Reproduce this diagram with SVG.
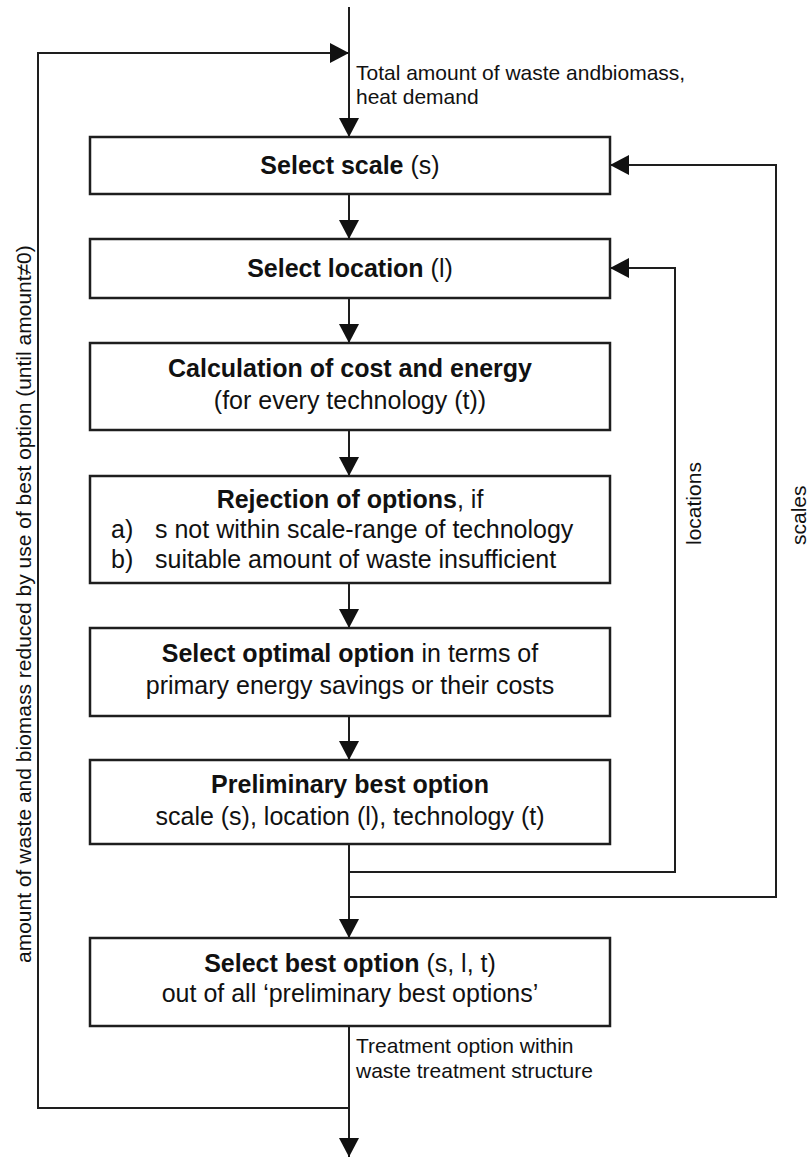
<svg xmlns="http://www.w3.org/2000/svg" width="808" height="1157" viewBox="0 0 808 1157">
<style>
.box{fill:#fff;stroke:#1e1e1e;stroke-width:2.5}
.ln{fill:none;stroke:#1e1e1e;stroke-width:2}
.t{font-family:"Liberation Sans",Arial,sans-serif;font-size:25px;fill:#111}
.c{text-anchor:middle}
.b{font-weight:bold}
.lb{font-family:"Liberation Sans",Arial,sans-serif;font-size:21px;fill:#111}
</style>
<defs>
<marker id="ah" viewBox="0 0 19 20" refX="19" refY="10" markerWidth="19" markerHeight="20" markerUnits="userSpaceOnUse" orient="auto">
<path d="M0,0 L19,10 L0,20 z" fill="#111"/>
</marker>
</defs>
<g id="connectors">
<path class="ln" d="M349,7 V137" marker-end="url(#ah)"/>
<path class="ln" d="M349,1108 H38 V53 H349" marker-end="url(#ah)"/>
<path class="ln" d="M349,194 V239" marker-end="url(#ah)"/>
<path class="ln" d="M349,298 V343" marker-end="url(#ah)"/>
<path class="ln" d="M349,430 V476" marker-end="url(#ah)"/>
<path class="ln" d="M349,583 V628" marker-end="url(#ah)"/>
<path class="ln" d="M349,716 V760" marker-end="url(#ah)"/>
<path class="ln" d="M349,844 V938" marker-end="url(#ah)"/>
<path class="ln" d="M349,872 H675 V268 H610" marker-end="url(#ah)"/>
<path class="ln" d="M349,897 H776 V165 H610" marker-end="url(#ah)"/>
<path class="ln" d="M349,1026 V1157" marker-end="url(#ah)"/>
<text class="lb" x="356" y="80">Total amount of waste andbiomass,</text>
<text class="lb" x="356" y="104">heat demand</text>
<text class="lb" x="356" y="1053">Treatment option within</text>
<text class="lb" x="356" y="1078">waste treatment structure</text>
<text class="lb" transform="translate(31,963) rotate(-90)">amount of waste and biomass reduced by use of best option (until amount≠0)</text>
<text class="lb" transform="translate(701,545) rotate(-90)">locations</text>
<text class="lb" transform="translate(806,545) rotate(-90)">scales</text>
</g>
<g id="n1">
<rect class="box" x="90" y="137" width="520" height="57"/>
<text class="t c" x="350" y="174"><tspan class="b">Select scale</tspan> (s)</text>
</g>
<g id="n2">
<rect class="box" x="90" y="239" width="520" height="59"/>
<text class="t c" x="350" y="277"><tspan class="b">Select location</tspan> (l)</text>
</g>
<g id="n3">
<rect class="box" x="90" y="343" width="520" height="87"/>
<text class="t c b" x="350" y="377">Calculation of cost and energy</text>
<text class="t c" x="350" y="409">(for every technology (t))</text>
</g>
<g id="n4">
<rect class="box" x="90" y="476" width="520" height="107"/>
<text class="t c" x="350" y="508"><tspan class="b">Rejection of options</tspan>, if</text>
<text class="t" x="111" y="538">a)</text>
<text class="t" x="155" y="538">s not within scale-range of technology</text>
<text class="t" x="111" y="568">b)</text>
<text class="t" x="155" y="568">suitable amount of waste insufficient</text>
</g>
<g id="n5">
<rect class="box" x="90" y="628" width="520" height="88"/>
<text class="t c" x="350" y="662"><tspan class="b">Select optimal option</tspan> in terms of</text>
<text class="t c" x="350" y="694">primary energy savings or their costs</text>
</g>
<g id="n6">
<rect class="box" x="90" y="760" width="520" height="84"/>
<text class="t c b" x="350" y="793">Preliminary best option</text>
<text class="t c" x="350" y="825">scale (s), location (l), technology (t)</text>
</g>
<g id="n7">
<rect class="box" x="90" y="938" width="520" height="88"/>
<text class="t c" x="350" y="972"><tspan class="b">Select best option</tspan> (s, l, t)</text>
<text class="t c" x="350" y="1002">out of all ‘preliminary best options’</text>
</g>
</svg>
